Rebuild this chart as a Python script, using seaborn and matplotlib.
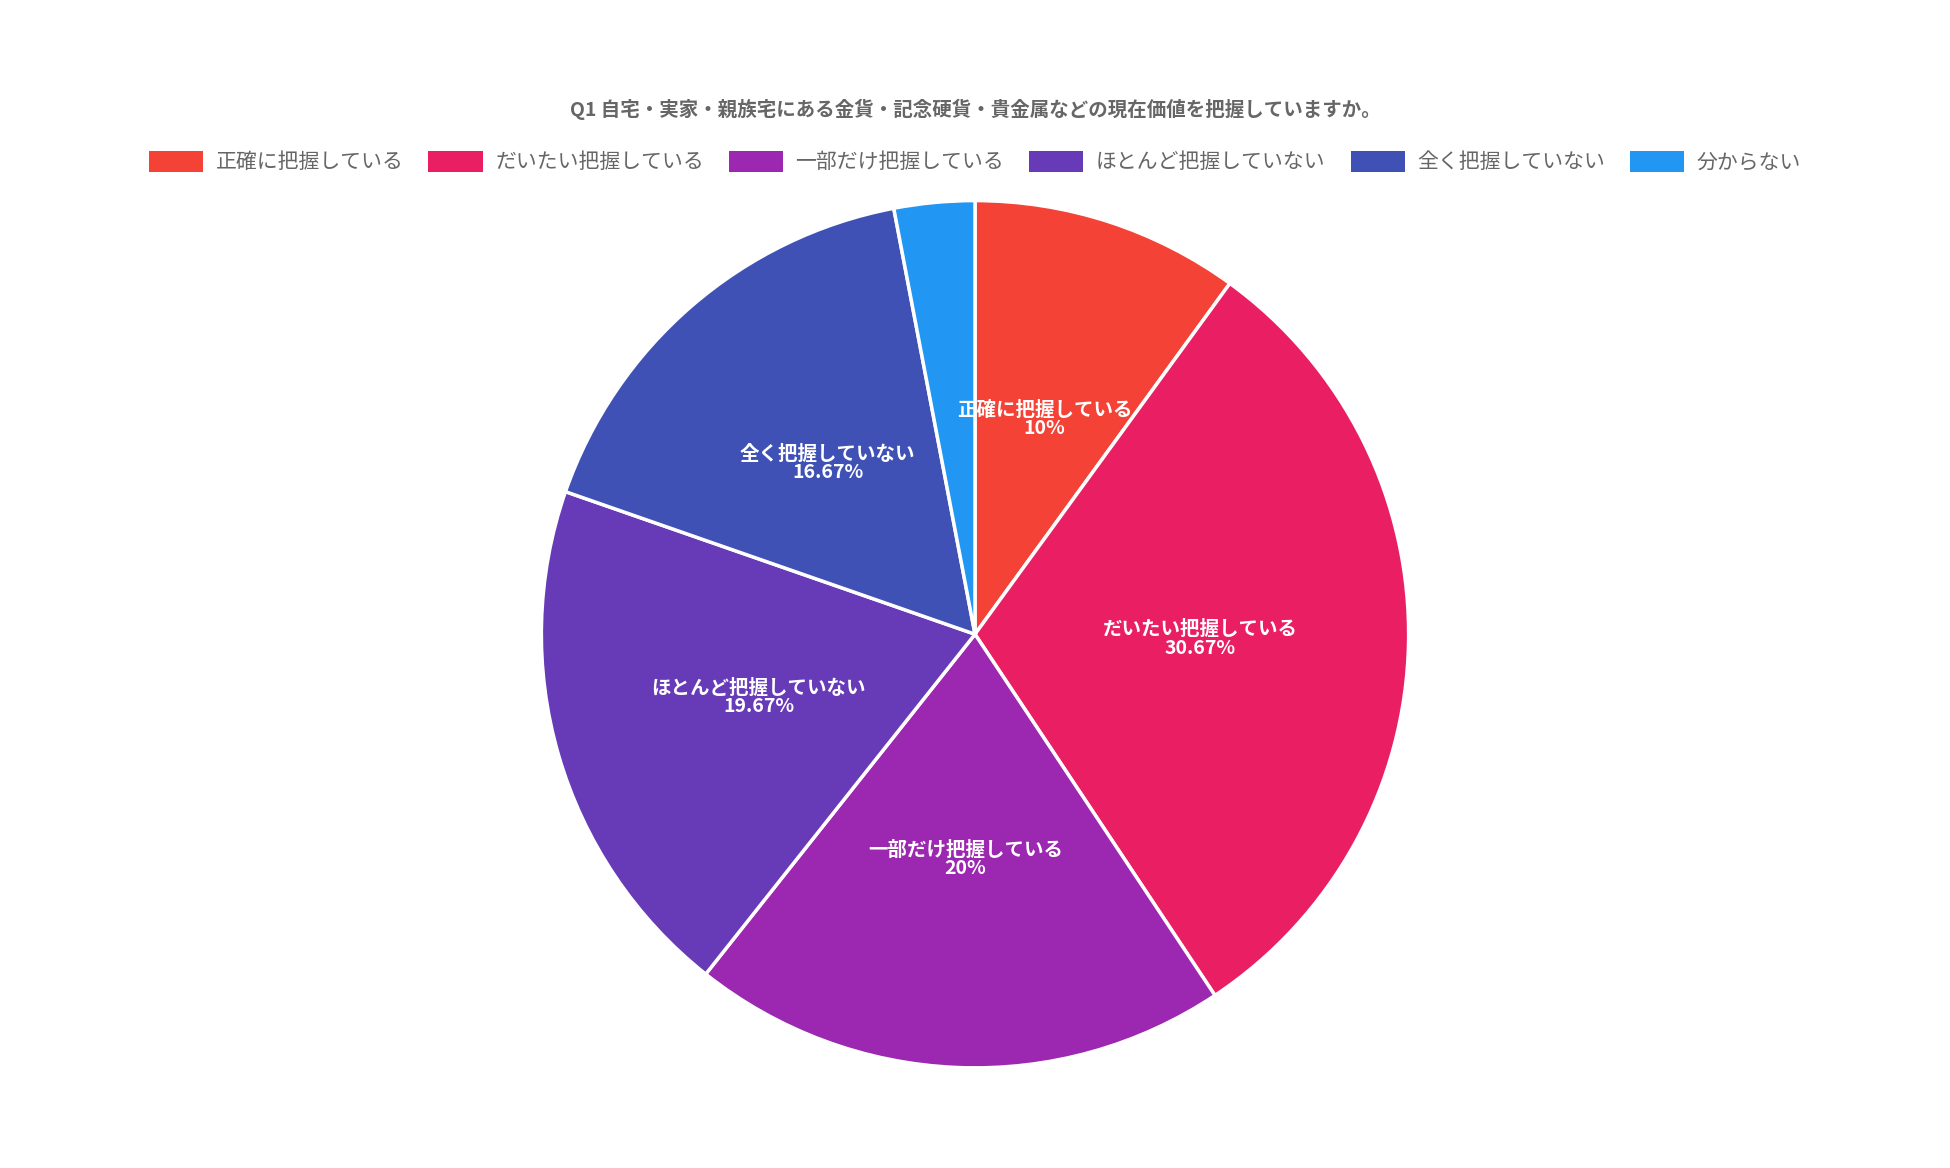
import matplotlib
matplotlib.use("Agg")
import matplotlib.pyplot as plt
import seaborn as sns
from matplotlib.patches import Patch

categories = ["正確に把握している", "だいたい把握している", "一部だけ把握している",
              "ほとんど把握していない", "全く把握していない", "分からない"]
values = [10, 30.67, 20, 19.67, 16.67, 3]
pct_labels = ["10%", "30.67%", "20%", "19.67%", "16.67%", ""]
colors_hex = ["#F44336", "#E91E63", "#9C27B0", "#673AB7", "#3F51B5", "#2196F3"]
title = "Q1 自宅・実家・親族宅にある金貨・記念硬貨・貴金属などの現在価値を把握していますか。"

sns.set_theme(style="white")
plt.rcParams['font.family'] = ['Noto Sans CJK JP', 'DejaVu Sans']
colors = sns.color_palette(colors_hex)

fig = plt.figure(figsize=(19.5, 11.68), dpi=100)
ax = fig.add_axes([0.5 - 0.2246, 0.457 - 0.375, 0.4492, 0.75])

labels = [f"{c}\n{p}" if p else "" for c, p in zip(categories, pct_labels)]
wedges, texts = ax.pie(values, colors=colors, startangle=90, counterclock=False,
                       labels=labels, labeldistance=0.52,
                       wedgeprops=dict(edgecolor="white", linewidth=2.5),
                       textprops=dict(color="white", fontsize=14, fontweight="bold",
                                      ha="center", va="center", linespacing=0.95))
for t in texts:
    t.set_horizontalalignment("center")
ax.set_xlim(-1.01, 1.01)
ax.set_ylim(-1.01, 1.01)
ax.set_aspect("equal")
ax.axis("off")

fig.text(0.5, 1 - 109 / 1168, title, ha="center", va="center",
         fontsize=14, fontweight="bold", color="#666666")
handles = [Patch(facecolor=c, edgecolor="none") for c in colors]
fig.legend(handles, categories, loc="center", bbox_to_anchor=(0.5, 1 - 162 / 1168),
           ncol=6, frameon=False, fontsize=15, handlelength=2.6, handleheight=1.2,
           columnspacing=1.2, handletextpad=0.6, labelcolor="#666666")

fig.savefig("out.png", dpi=100, facecolor="white")
